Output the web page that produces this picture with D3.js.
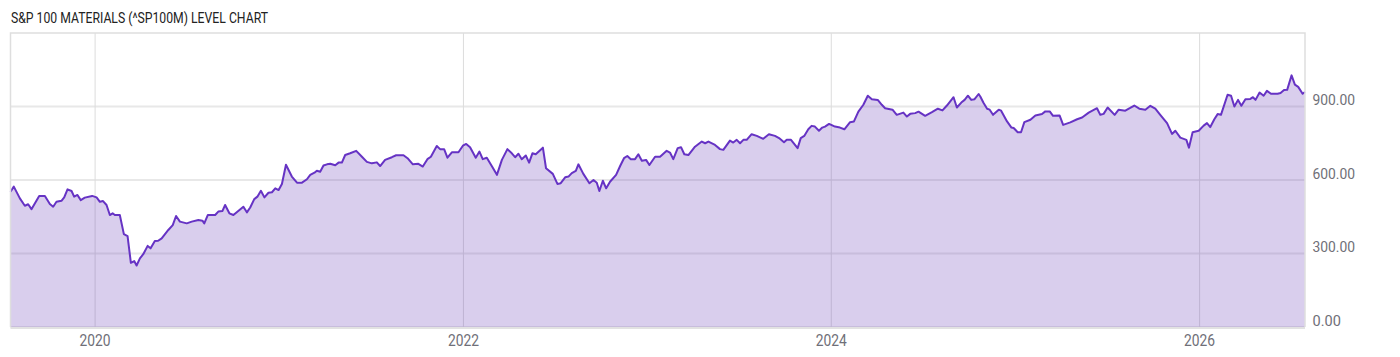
<!DOCTYPE html>
<html>
<head>
<meta charset="utf-8">
<script src="https://cdn.jsdelivr.net/npm/d3@7"></script>
<style>
  body { margin: 0; background: #fff; }
  text { font-family: Roboto, "Noto Sans", sans-serif; }
</style>
</head>
<body>
<div id="chart"></div>
<script>
// time as decimal years
var times = [
  2019.540, 2019.558, 2019.591, 2019.618, 2019.636, 2019.654, 2019.696, 2019.727, 2019.754, 2019.772,
  2019.790, 2019.817, 2019.832, 2019.850, 2019.872, 2019.886, 2019.904, 2019.922, 2019.944, 2019.984,
  2020.008, 2020.026, 2020.043, 2020.062, 2020.080, 2020.095, 2020.107, 2020.134, 2020.156, 2020.176,
  2020.194, 2020.212, 2020.225, 2020.243, 2020.261, 2020.285, 2020.301, 2020.324, 2020.342, 2020.361,
  2020.397, 2020.421, 2020.439, 2020.460, 2020.497, 2020.524, 2020.560, 2020.582, 2020.592, 2020.611,
  2020.651, 2020.668, 2020.690, 2020.705, 2020.728, 2020.750, 2020.804, 2020.823, 2020.841, 2020.863,
  2020.880, 2020.899, 2020.918, 2020.940, 2020.959, 2020.977, 2020.995, 2021.013, 2021.035, 2021.067,
  2021.095, 2021.122, 2021.149, 2021.167, 2021.190, 2021.203, 2021.221, 2021.239, 2021.258, 2021.276,
  2021.303, 2021.321, 2021.339, 2021.357, 2021.384, 2021.417, 2021.448, 2021.475, 2021.502, 2021.529,
  2021.547, 2021.574, 2021.611, 2021.634, 2021.674, 2021.696, 2021.725, 2021.755, 2021.779, 2021.804,
  2021.823, 2021.855, 2021.873, 2021.895, 2021.913, 2021.937, 2021.973, 2021.997, 2022.015, 2022.036,
  2022.067, 2022.087, 2022.105, 2022.127, 2022.154, 2022.182, 2022.209, 2022.239, 2022.263, 2022.281,
  2022.299, 2022.317, 2022.339, 2022.357, 2022.375, 2022.393, 2022.432, 2022.449, 2022.486, 2022.511,
  2022.529, 2022.553, 2022.571, 2022.589, 2022.611, 2022.625, 2022.652, 2022.685, 2022.707, 2022.725,
  2022.739, 2022.758, 2022.776, 2022.797, 2022.830, 2022.852, 2022.873, 2022.891, 2022.910, 2022.933,
  2022.951, 2022.970, 2022.993, 2023.011, 2023.042, 2023.069, 2023.105, 2023.123, 2023.141, 2023.165,
  2023.183, 2023.201, 2023.223, 2023.259, 2023.296, 2023.314, 2023.332, 2023.368, 2023.395, 2023.413,
  2023.449, 2023.467, 2023.486, 2023.504, 2023.522, 2023.540, 2023.567, 2023.595, 2023.630, 2023.661,
  2023.694, 2023.716, 2023.743, 2023.758, 2023.781, 2023.817, 2023.834, 2023.853, 2023.875, 2023.893,
  2023.911, 2023.933, 2023.951, 2023.966, 2023.988, 2024.020, 2024.047, 2024.071, 2024.102, 2024.123,
  2024.147, 2024.174, 2024.198, 2024.220, 2024.252, 2024.274, 2024.292, 2024.332, 2024.355, 2024.391,
  2024.410, 2024.428, 2024.455, 2024.473, 2024.509, 2024.546, 2024.578, 2024.603, 2024.627, 2024.663,
  2024.681, 2024.705, 2024.723, 2024.741, 2024.759, 2024.777, 2024.799, 2024.808, 2024.826, 2024.845,
  2024.859, 2024.877, 2024.908, 2024.921, 2024.953, 2024.977, 2024.989, 2025.011, 2025.029, 2025.047,
  2025.080, 2025.107, 2025.143, 2025.161, 2025.185, 2025.203, 2025.239, 2025.258, 2025.297, 2025.334,
  2025.361, 2025.397, 2025.442, 2025.460, 2025.478, 2025.500, 2025.538, 2025.560, 2025.596, 2025.620,
  2025.645, 2025.672, 2025.705, 2025.732, 2025.759, 2025.786, 2025.823, 2025.850, 2025.868, 2025.895,
  2025.917, 2025.928, 2025.942, 2025.962, 2025.995, 2026.022, 2026.040, 2026.058, 2026.080, 2026.098,
  2026.116, 2026.152, 2026.171, 2026.189, 2026.209, 2026.227, 2026.249, 2026.276, 2026.290, 2026.304,
  2026.326, 2026.348, 2026.366, 2026.388, 2026.424, 2026.440, 2026.459, 2026.476, 2026.500, 2026.518,
  2026.536, 2026.560, 2026.573
];

var levels = [
  552, 573, 525, 495, 501, 481, 535, 535, 502, 491,
  511, 515, 529, 562, 555, 532, 539, 518, 528, 535,
  529, 511, 514, 498, 457, 464, 457, 457, 379, 371,
  262, 269, 251, 280, 297, 331, 321, 351, 352, 362,
  396, 416, 453, 430, 423, 430, 437, 434, 423, 457,
  457, 471, 473, 498, 464, 457, 491, 468, 488, 522,
  532, 556, 529, 548, 550, 566, 559, 584, 662, 614,
  589, 589, 603, 621, 630, 638, 634, 659, 664, 666,
  660, 671, 671, 702, 709, 719, 695, 674, 668, 672,
  657, 682, 693, 701, 701, 689, 664, 666, 655, 685,
  695, 739, 726, 726, 691, 713, 713, 740, 747, 734,
  691, 716, 685, 691, 657, 621, 682, 726, 709, 693,
  707, 685, 700, 671, 709, 705, 732, 648, 625, 584,
  587, 611, 614, 628, 637, 664, 625, 587, 600, 589,
  555, 597, 566, 593, 621, 657, 689, 698, 685, 685,
  705, 679, 682, 661, 695, 695, 719, 712, 685, 730,
  734, 705, 702, 736, 757, 750, 757, 743, 726, 723,
  761, 753, 764, 750, 764, 764, 787, 780, 768, 787,
  780, 771, 754, 764, 764, 730, 771, 780, 807, 821,
  818, 801, 814, 818, 829, 818, 814, 807, 836, 839,
  879, 907, 944, 930, 927, 907, 893, 887, 866, 875,
  859, 870, 873, 879, 862, 877, 891, 884, 904, 938,
  896, 916, 927, 944, 927, 930, 951, 941, 914, 891,
  887, 866, 887, 883, 839, 814, 812, 795, 795, 836,
  846, 863, 869, 880, 880, 862, 863, 825, 835, 848,
  855, 875, 893, 866, 870, 896, 866, 887, 883, 893,
  904, 891, 887, 903, 891, 866, 832, 788, 801, 773,
  767, 764, 732, 795, 801, 822, 832, 816, 848, 869,
  866, 948, 944, 900, 927, 903, 930, 931, 938, 927,
  957, 944, 964, 952, 952, 955, 967, 968, 1027, 989,
  980, 952, 959
];

var yTicks = [0, 300, 600, 900];
var titleText = "S&P 100 MATERIALS (^SP100M) LEVEL CHART";

function toDate(t) {
  var yr = Math.floor(t);
  var s = Date.UTC(yr, 0, 1), e = Date.UTC(yr + 1, 0, 1);
  return new Date(s + (t - yr) * (e - s));
}

var data = times.map(function (t, i) { return { date: toDate(t), value: levels[i] }; });

var width = 1400, height = 357;
var plotLeft = 10.5, plotRight = 1305, plotTop = 33, plotBottom = 327;

var svg = d3.select("#chart").append("svg")
  .attr("width", width)
  .attr("height", height);

var x = d3.scaleUtc()
  .domain(d3.extent(data, function (d) { return d.date; }))
  .range([plotLeft, plotRight]);

var y = d3.scaleLinear()
  .domain([0, 1200])
  .range([plotBottom, plotTop]);

svg.append("text")
  .attr("x", 11)
  .attr("y", 22.5)
  .attr("font-size", 15)
  .attr("fill", "#222")
  .attr("textLength", 257)
  .attr("lengthAdjust", "spacingAndGlyphs")
  .text(titleText);

// grid
var grid = svg.append("g");
grid.selectAll("line.h")
  .data(yTicks)
  .enter()
  .append("line")
  .attr("x1", plotLeft)
  .attr("x2", plotRight)
  .attr("y1", function (d) { return y(d); })
  .attr("y2", function (d) { return y(d); })
  .attr("stroke", "#e8e8e8")
  .attr("stroke-width", 2);

var xTicks = x.ticks(d3.utcYear.every(2));
grid.selectAll("line.v")
  .data(xTicks)
  .enter()
  .append("line")
  .attr("x1", function (d) { return x(d); })
  .attr("x2", function (d) { return x(d); })
  .attr("y1", plotTop)
  .attr("y2", plotBottom)
  .attr("stroke", "#dcdcdc")
  .attr("stroke-width", 1);

// area + line
var area = d3.area()
  .x(function (d) { return x(d.date); })
  .y0(plotBottom)
  .y1(function (d) { return y(d.value); });

var line = d3.line()
  .x(function (d) { return x(d.date); })
  .y(function (d) { return y(d.value); });

svg.append("path")
  .datum(data)
  .attr("d", area)
  .attr("fill", "#673ab7")
  .attr("fill-opacity", 0.25);

svg.append("path")
  .datum(data)
  .attr("d", line)
  .attr("fill", "none")
  .attr("stroke", "#6633c4")
  .attr("stroke-width", 2)
  .attr("stroke-linejoin", "round");

// frame
svg.append("path")
  .attr("d", "M" + plotLeft + "," + plotBottom + "V" + plotTop + "H" + plotRight + "V" + plotBottom)
  .attr("fill", "none")
  .attr("stroke", "#dedede")
  .attr("stroke-width", 1.5);

svg.append("line")
  .attr("x1", plotLeft).attr("x2", plotRight)
  .attr("y1", plotBottom + 1).attr("y2", plotBottom + 1)
  .attr("stroke", "#e2e2e2")
  .attr("stroke-width", 2);

// y labels
svg.append("g").selectAll("text")
  .data(yTicks)
  .enter()
  .append("text")
  .attr("x", 1312.5)
  .attr("y", function (d) { return y(d) - 1.5; })
  .attr("font-size", 15)
  .attr("fill", "#6f6f78")
  .text(function (d) { return d3.format(".2f")(d); })
  .attr("textLength", function (d) { return d3.format(".2f")(d).length * 7.1; })
  .attr("lengthAdjust", "spacingAndGlyphs");

// x labels
svg.append("g").selectAll("text")
  .data(xTicks)
  .enter()
  .append("text")
  .attr("x", function (d) { return x(d); })
  .attr("y", 346)
  .attr("text-anchor", "middle")
  .attr("font-size", 16)
  .attr("fill", "#6f6f78")
  .attr("textLength", 31)
  .attr("lengthAdjust", "spacingAndGlyphs")
  .text(function (d) { return d3.utcFormat("%Y")(d); });
</script>
</body>
</html>
